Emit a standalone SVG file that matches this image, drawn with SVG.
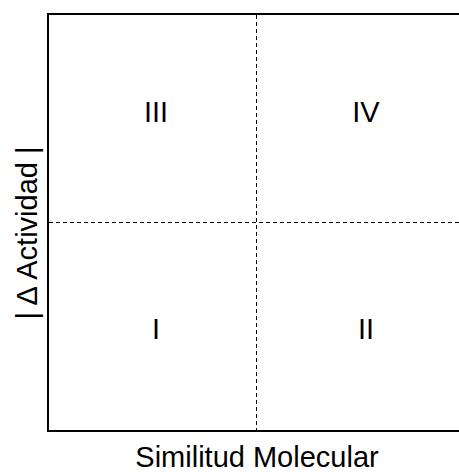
<svg xmlns="http://www.w3.org/2000/svg" width="459" height="474" viewBox="0 0 459 474">
<style>
text{font-family:"Liberation Sans",Arial,sans-serif;font-size:29px;fill:#000;text-anchor:middle}
.dash{stroke:#000;stroke-width:1;stroke-dasharray:4,3;fill:none}
</style>
<rect x="0" y="0" width="459" height="474" fill="#fff"/>
<g id="connectors">
<line class="dash" x1="256.5" y1="15" x2="256.5" y2="431"/>
<line class="dash" x1="49" y1="222.5" x2="464" y2="222.5"/>
</g>
<g id="frame">
<rect x="48" y="14" width="416" height="417" fill="none" stroke="#000" stroke-width="2"/>
</g>
<g id="q3"><text x="156" y="122">III</text></g>
<g id="q4"><text x="366" y="122">IV</text></g>
<g id="q1"><text x="156" y="339">I</text></g>
<g id="q2"><text x="366" y="339">II</text></g>
<g id="xlabel"><text x="257" y="467">Similitud Molecular</text></g>
<g id="ylabel"><text transform="translate(37,233) rotate(-90)">| Δ Actividad |</text></g>
</svg>
